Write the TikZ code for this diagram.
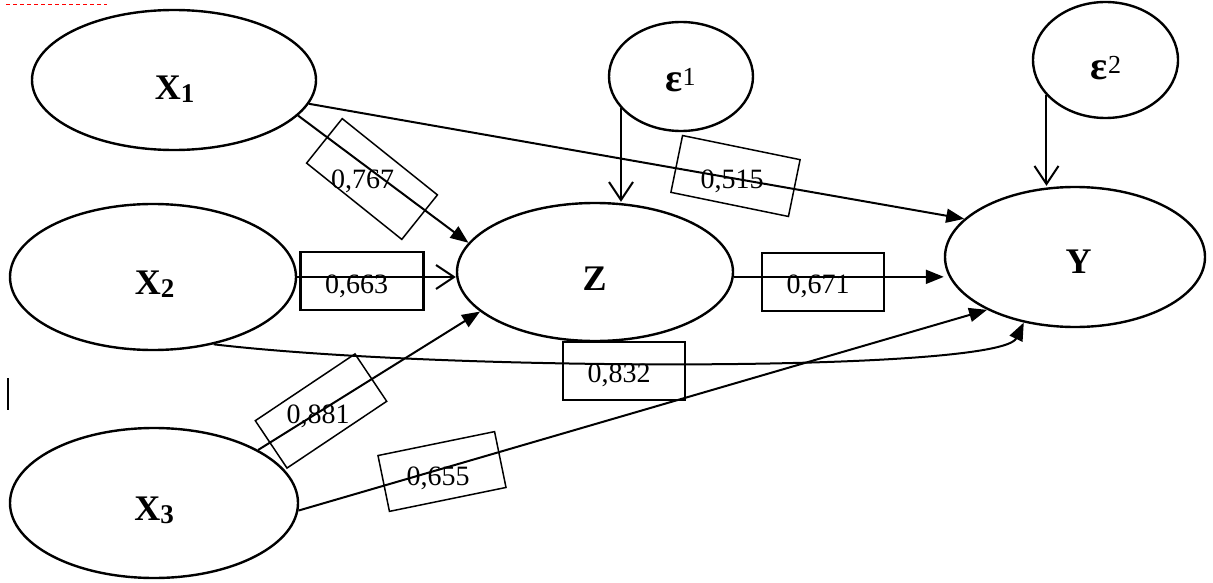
\documentclass[tikz,border=0pt]{standalone}
\usepackage{fontspec}
\setmainfont{Liberation Serif}
\usetikzlibrary{shapes.geometric,arrows.meta}
\newcommand{\lsub}[1]{\raisebox{-3pt}{\fontsize{27}{30}\selectfont #1}}
\newcommand{\lsup}[1]{\raisebox{6pt}{\fontsize{26}{30}\selectfont\mdseries #1}}
\tikzset{
 ell/.style={ellipse, draw, line width=2.4pt, inner sep=0pt},
 lbl/.style={font=\fontsize{36}{40}\selectfont\bfseries, anchor=base, inner sep=0pt},
 num/.style={font=\fontsize{28}{32}\selectfont, anchor=base, inner sep=0pt},
 hbox/.style={draw, line width=2.8pt, inner sep=0pt},
 rbox/.style={draw, line width=1.5pt, inner sep=0pt},
 conn/.style={line width=2pt},
 fa/.style={conn, -{Triangle[length=18pt,width=14pt]}},
 oa/.style={conn, -{Straight Barb[length=18pt,width=24pt]}},
}
\begin{document}
\begin{tikzpicture}[x=1pt,y=-1pt]
\useasboundingbox (0,0) rectangle (1213,583);
% ellipses
\node[ell, minimum width=284pt, minimum height=140pt] (X1) at (174,80) {};
\node[ell, minimum width=286pt, minimum height=146pt] (X2) at (153,277) {};
\node[ell, minimum width=288pt, minimum height=150pt] (X3) at (154,503) {};
\node[ell, minimum width=276pt, minimum height=138pt] (Z) at (595,272) {};
\node[ell, minimum width=260pt, minimum height=140pt] (Y) at (1075,257) {};
\node[ell, minimum width=144pt, minimum height=109pt] (E1) at (681,76.5) {};
\node[ell, minimum width=145pt, minimum height=116pt] (E2) at (1105.5,60) {};
% labels
\node[lbl] (tX1) at (174.5,100) {X\lsub{1}};
\node[lbl] (tX2) at (154.5,294) {X\lsub{2}};
\node[lbl] (tX3) at (154,520) {X\lsub{3}};
\node[lbl] (tZ) at (594.5,290) {Z};
\node[lbl] (tY) at (1078.5,273) {Y};
\node[lbl] (tE1) at (680.5,92) {{\fontsize{40}{44}\selectfont ε}\lsup{1}};
\node[lbl] (tE2) at (1106,80) {{\fontsize{40}{44}\selectfont ε}\lsup{2}};
% boxes
\node[hbox, minimum width=123pt, minimum height=58pt] (B663) at (362,281) {};
\node[hbox, minimum width=122pt, minimum height=58pt] (B671) at (823,282) {};
\node[hbox, minimum width=122pt, minimum height=58pt] (B832) at (624,371) {};
\node[rbox, rotate=-38.7, minimum width=122pt, minimum height=57pt] (B767) at (372,179) {};
\node[rbox, rotate=-11.6, minimum width=120pt, minimum height=58pt] (B515) at (735.5,176) {};
\node[rbox, rotate=33.8, minimum width=120pt, minimum height=57pt] (B881) at (321,411) {};
\node[rbox, rotate=11.6, minimum width=119pt, minimum height=57pt] (B655) at (442,471.5) {};
% numbers
\node[num] (n767) at (362.5,188) {0,767};
\node[num] (n515) at (732,188) {0,515};
\node[num] (n663) at (356.5,293) {0,663};
\node[num] (n671) at (818,293) {0,671};
\node[num] (n832) at (619,382) {0,832};
\node[num] (n881) at (318,423) {0,881};
\node[num] (n655) at (438,485) {0,655};
% connectors
\draw[fa] (X1.-16.6) -- (Z.167.1);
\draw[fa] (X1.-10) -- (Y.161);
\draw[oa] (X2.east) -- (X2.east -| Z.west);
\draw[oa] (E1.208) -- (E1.208 |- Z.north);
\draw[oa] (E2.211) -- (E2.211 |- Y.north);
\draw[fa] (Z.-2) -- (Z.-2 -| Y.west);
\draw[fa] (X2.-48.2) .. controls (450,372) and (1000,372) .. (Y.232.7);
\draw[fa] (X3.27.9) -- (Z.199.3);
\draw[fa] (X3.-3.6) -- (Y.211.6);
% stray marks
\draw[red, line width=1pt, dash pattern=on 4pt off 3pt] (6,5) -- (107,5);
\draw[line width=1.5pt] (8,378) -- (8,410);
\end{tikzpicture}
\end{document}
